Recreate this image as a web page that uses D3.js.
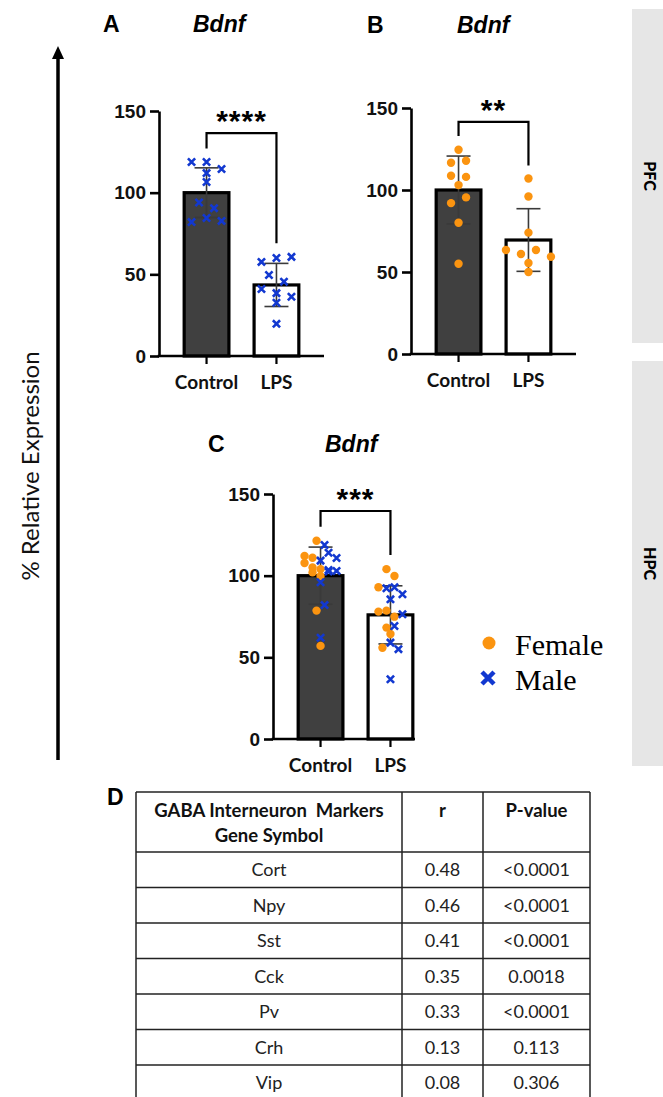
<!DOCTYPE html>
<html>
<head>
<meta charset="utf-8">
<script src="https://cdn.jsdelivr.net/npm/d3@7"></script>
<style>
  body { margin: 0; background: #fff; }
  svg { display: block; }
</style>
</head>
<body>
<svg id="fig" width="663" height="1097"></svg>
<script>
'use strict';

// ---- data ----
const groups = ["Control", "LPS"];
const yTicks = [0, 50, 100, 150];

// A: PFC, males only
const aControlMale = [118.8, 118.8, 114.5, 112, 106.5, 94, 90.5, 82, 84.5, 82.7];
const aLpsMale = [57.6, 60, 60.7, 49.6, 45.5, 41, 38.5, 36.3, 32.6, 19.7];
const aMean = [100, 43.5];
const aSd = [15.2, 13.2];
const aSig = { label: "****", top: 136.5, left: 127, right: 69 };

// B: PFC, females only
const bControlFemale = [124.5, 116.6, 117.8, 108.7, 108, 103, 92, 95.5, 80, 55];
const bLpsFemale = [107, 96, 74, 63.4, 61, 63.4, 59.3, 55.5, 50];
const bMean = [100, 69.5];
const bSd = [20.7, 19.1];
const bSig = { label: "**", top: 141.5, left: 133, right: 115 };

// C: HPC, both sexes
const cControlFemale = [121.4, 107.7, 112, 111, 105, 104, 102, 99.8, 78.6, 57];
const cControlMale = [109.2, 114, 118.8, 110.8, 103.5, 102.5, 102.9, 96, 82, 62];
const cLpsFemale = [104, 99.8, 92.9, 78, 78.6, 74.9, 68.2, 64.3, 55.9];
const cLpsMale = [92.3, 92.9, 88.6, 85.5, 76.4, 69.2, 59, 55, 36.6];
const cMean = [100, 76];
const cSd = [17.5, 17.8];
const cSig = { label: "***", top: 139.6, left: 130, right: 112.7 };

const legendItems = ["Female", "Male"];
const regions = ["PFC", "HPC"];

// D: table
const tableHeader = [["GABA Interneuron  Markers", "Gene Symbol"], ["r"], ["P-value"]];
const genes = ["Cort", "Npy", "Sst", "Cck", "Pv", "Crh", "Vip"];
const rValues = ["0.48", "0.46", "0.41", "0.35", "0.33", "0.13", "0.08"];
const pValues = ["<0.0001", "<0.0001", "<0.0001", "0.0018", "<0.0001", "0.113", "0.306"];

// ---- styling ----
const FEMALE = "#fb9410";
const MALE = "#1238d0";
const BAR_DARK = "#404040";
const sansBold = "'Liberation Sans', Arial, sans-serif";
const calibri = "Lato, 'Open Sans', sans-serif";

const svg = d3.select("#fig");

const panels = [
  { letter: "A", letterX: 103, titleX: 193, titleY: 32,
    left: 159, top: 111, bottom: 356, axisLen: 165, step: 15,
    female: [[], []], male: [aControlMale, aLpsMale], mean: aMean, sd: aSd, sig: aSig },
  { letter: "B", letterX: 367, titleX: 457, titleY: 33,
    left: 411, top: 108, bottom: 354, axisLen: 165, step: 15,
    female: [bControlFemale, bLpsFemale], male: [[], []], mean: bMean, sd: bSd, sig: bSig },
  { letter: "C", letterX: 208, titleX: 325, titleY: 452,
    left: 273, top: 494, bottom: 739, axisLen: 142, step: 8,
    female: [cControlFemale, cLpsFemale], male: [cControlMale, cLpsMale], mean: cMean, sd: cSd, sig: cSig }
];

// spread points of one column into rows, GraphPad style
function spread(points, y, cx, step, binH) {
  const sorted = points.map((p, i) => Object.assign({ i: i }, p))
    .sort((a, b) => b.v - a.v);
  const rows = [];
  let cur = null;
  sorted.forEach(p => {
    p.py = y(p.v);
    if (!cur || p.py - cur.start >= binH) {
      cur = { start: p.py, pts: [] };
      rows.push(cur);
    }
    cur.pts.push(p);
  });
  rows.forEach(r => {
    r.pts.sort((a, b) => a.i - b.i);
    const n = r.pts.length;
    r.pts.forEach((p, k) => { p.px = cx + (k - (n - 1) / 2) * step; });
  });
  return sorted;
}

function drawPanel(p) {
  const g = svg.append("g");
  const y = d3.scaleLinear().domain([0, 150]).range([p.bottom, p.top]);
  const x = d3.scaleBand().domain(groups).range([p.left, p.left + 165])
    .paddingInner(0.36).paddingOuter(0.36);

  // titles
  g.append("text").attr("x", p.letterX).attr("y", p.titleY)
    .attr("font-family", sansBold).attr("font-weight", "bold").attr("font-size", 23)
    .text(p.letter);
  g.append("text").attr("x", p.titleX).attr("y", p.titleY)
    .attr("font-family", sansBold).attr("font-weight", "bold").attr("font-style", "italic")
    .attr("font-size", 23).text("Bdnf");

  // bars
  g.selectAll(".bar").data(groups).enter().append("rect")
    .attr("x", d => x(d))
    .attr("y", (d, i) => y(p.mean[i]))
    .attr("width", x.bandwidth())
    .attr("height", (d, i) => y(0) - y(p.mean[i]))
    .attr("fill", (d, i) => i === 0 ? BAR_DARK : "#fff")
    .attr("stroke", "#000").attr("stroke-width", 3.2);

  // error bars (SD)
  const eb = g.selectAll(".err").data(groups).enter().append("g")
    .attr("stroke", "#3a3a3a").attr("stroke-width", 1.6);
  eb.append("line")
    .attr("x1", d => x(d) + x.bandwidth() / 2).attr("x2", d => x(d) + x.bandwidth() / 2)
    .attr("y1", (d, i) => y(p.mean[i] + p.sd[i])).attr("y2", (d, i) => y(p.mean[i] - p.sd[i]));
  [1, -1].forEach(s => {
    eb.append("line")
      .attr("x1", d => x(d) + x.bandwidth() / 2 - 12).attr("x2", d => x(d) + x.bandwidth() / 2 + 12)
      .attr("y1", (d, i) => y(p.mean[i] + s * p.sd[i])).attr("y2", (d, i) => y(p.mean[i] + s * p.sd[i]));
  });

  // points
  groups.forEach((grp, gi) => {
    const pts = p.female[gi].map(v => ({ v: v, sex: "F" }))
      .concat(p.male[gi].map(v => ({ v: v, sex: "M" })));
    const placed = spread(pts, y, x(grp) + x.bandwidth() / 2, p.step, 8);
    g.selectAll(null).data(placed.filter(d => d.sex === "F")).enter().append("circle")
      .attr("cx", d => d.px).attr("cy", d => d.py).attr("r", 4.2).attr("fill", FEMALE);
    g.selectAll(null).data(placed.filter(d => d.sex === "M")).enter().append("path")
      .attr("d", d => {
        const s = 3.6;
        return `M${d.px - s},${d.py - s}L${d.px + s},${d.py + s}M${d.px - s},${d.py + s}L${d.px + s},${d.py - s}`;
      })
      .attr("stroke", MALE).attr("stroke-width", 2.6).attr("fill", "none");
  });

  // y axis
  const ya = g.append("g").attr("transform", `translate(${p.left},0)`)
    .call(d3.axisLeft(y).tickValues(yTicks).tickSize(9).tickSizeOuter(0).tickPadding(4));
  ya.select(".domain").attr("stroke-width", 2.6);
  ya.selectAll(".tick line").attr("stroke-width", 2.6);
  ya.selectAll("text").attr("font-family", sansBold).attr("font-weight", "bold")
    .attr("font-size", 19).attr("fill", "#111");

  // x axis
  const xa = g.append("g").attr("transform", `translate(0,${p.bottom})`)
    .call(d3.axisBottom(x).tickSize(8).tickSizeOuter(0).tickPadding(12));
  xa.select(".domain").remove();
  xa.selectAll(".tick line").attr("stroke-width", 2.2);
  xa.selectAll("text").attr("font-family", calibri).attr("font-weight", "bold")
    .attr("font-size", 19).attr("fill", "#111");
  g.append("line").attr("x1", p.left - 1.3).attr("x2", p.left + p.axisLen)
    .attr("y1", p.bottom).attr("y2", p.bottom)
    .attr("stroke", "#000").attr("stroke-width", 2.6);

  // significance bracket
  const c0 = x(groups[0]) + x.bandwidth() / 2;
  const c1 = x(groups[1]) + x.bandwidth() / 2;
  g.append("path")
    .attr("d", `M${c0},${y(p.sig.left)}V${y(p.sig.top)}H${c1}V${y(p.sig.right)}`)
    .attr("fill", "none").attr("stroke", "#000").attr("stroke-width", 2.2);
  g.append("text").attr("x", (c0 + c1) / 2).attr("y", y(p.sig.top) - 2)
    .attr("text-anchor", "middle")
    .attr("font-family", sansBold).attr("font-weight", "bold").attr("font-size", 30)
    .attr("letter-spacing", 1)
    .text(p.sig.label);
}

panels.forEach(drawPanel);

// side region strips
const strips = [{ y0: 9, y1: 343 }, { y0: 361, y1: 766 }];
regions.forEach((r, i) => {
  const s = strips[i];
  svg.append("rect").attr("x", 632).attr("y", s.y0).attr("width", 31).attr("height", s.y1 - s.y0)
    .attr("fill", "#e6e6e6");
  svg.append("text")
    .attr("transform", `translate(650,${(s.y0 + s.y1) / 2}) rotate(90)`)
    .attr("text-anchor", "middle").attr("dy", "0.35em")
    .attr("font-family", calibri).attr("font-weight", "900").attr("font-size", 16)
    .text(r);
});

// shared y label with arrow
svg.append("line").attr("x1", 58).attr("x2", 58).attr("y1", 760).attr("y2", 56)
  .attr("stroke", "#000").attr("stroke-width", 3.5);
svg.append("path").attr("d", "M58,46L64,59L52,59Z").attr("fill", "#000");
svg.append("text")
  .attr("transform", "translate(31,466) rotate(-90)")
  .attr("text-anchor", "middle").attr("dy", "0.35em")
  .attr("font-family", calibri).attr("font-size", 24).attr("fill", "#111")
  .text("% Relative Expression");

// legend
const lg = svg.append("g");
legendItems.forEach((name, i) => {
  const cy = 643 + i * 35;
  if (i === 0) {
    lg.append("circle").attr("cx", 489).attr("cy", cy).attr("r", 6.5).attr("fill", FEMALE);
  } else {
    const s = 6;
    lg.append("path").attr("d", `M${488 - s},${cy - s}L${488 + s},${cy + s}M${488 - s},${cy + s}L${488 + s},${cy - s}`)
      .attr("stroke", MALE).attr("stroke-width", 4.5);
  }
  lg.append("text").attr("x", 515).attr("y", cy + 12)
    .attr("font-family", "'Liberation Serif', 'Times New Roman', serif").attr("font-size", 30)
    .text(name);
});

// D: table
svg.append("text").attr("x", 107).attr("y", 805)
  .attr("font-family", sansBold).attr("font-weight", "bold").attr("font-size", 23).text("D");

const colX = [136, 402, 483, 590];
const headTop = 792, headBottom = 852, rowH = 35.5;
const rowY = d3.range(genes.length + 1).map(i => headBottom + i * rowH);
const tg = svg.append("g").attr("stroke", "#222").attr("stroke-width", 1.5);
colX.forEach(cx => tg.append("line").attr("x1", cx).attr("x2", cx).attr("y1", headTop).attr("y2", 1097));
[headTop].concat(rowY).forEach(ry => tg.append("line").attr("x1", colX[0]).attr("x2", colX[3]).attr("y1", ry).attr("y2", ry));

const colMid = [0, 1, 2].map(i => (colX[i] + colX[i + 1]) / 2);
tableHeader.forEach((lines, ci) => {
  lines.forEach((t, li) => {
    svg.append("text").attr("x", colMid[ci]).attr("y", 811 + li * 24.5)
      .attr("text-anchor", "middle").attr("dy", "0.35em")
      .attr("font-family", calibri).attr("font-weight", "bold").attr("font-size", 18.5)
      .attr("fill", "#111").style("white-space", "pre")
      .text(t);
  });
});
[genes, rValues, pValues].forEach((col, ci) => {
  svg.selectAll(null).data(col).enter().append("text")
    .attr("x", colMid[ci])
    .attr("y", (d, i) => rowY[i] + rowH / 2)
    .attr("text-anchor", "middle").attr("dy", "0.35em")
    .attr("font-family", calibri).attr("font-size", 18).attr("fill", "#222")
    .text(d => d);
});
</script>
</body>
</html>
